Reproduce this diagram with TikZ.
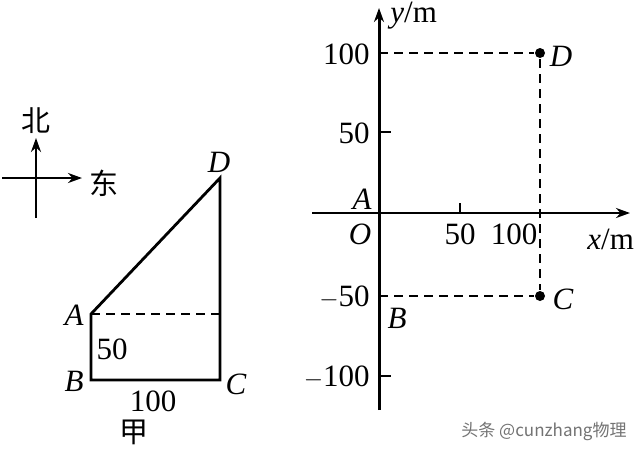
\documentclass[tikz,border=0pt]{standalone}
\usepackage{fontspec}
\setmainfont{Liberation Serif}
\newfontfamily\cjk{Noto Sans CJK SC}
\usetikzlibrary{arrows.meta}
\begin{document}
\begin{tikzpicture}[x=1pt,y=-1pt,line width=2.8pt,line join=miter,
  arr/.style={-{Stealth[length=14pt,width=10pt]}},
  lab/.style={font=\fontsize{31}{33}\selectfont\itshape,inner sep=0pt},
  num/.style={font=\fontsize{31}{33}\selectfont,inner sep=0pt},
  han/.style={font=\fontsize{29}{32}\selectfont\cjk,inner sep=0pt},
  dsh/.style={line width=2.4pt,dash pattern=on 9pt off 6pt},
  dot/.style={circle,fill=black,inner sep=0pt,minimum size=10pt}]
\useasboundingbox (0,0) rectangle (640,451);
% compass
\coordinate (cN) at (36,138);
\coordinate (cS) at (36,218);
\coordinate (cW) at (2,178);
\coordinate (cE) at (82,178);
\draw[arr] (cS) -- (cN);
\draw[arr] (cW) -- (cE);
\node[han] (bei) at (36,121) {北};
\node[han] (dong) at (104,183) {东};
% figure jia
\coordinate (A) at (91,314);
\coordinate (B) at (91,380);
\coordinate (C) at (220,380);
\coordinate (D) at (220,178);
\coordinate (Am) at (220,314);
\draw (A) -- (D) -- (C) -- (B) -- cycle;
\draw[dsh] (A) -- (Am);
\node[lab] (lA) at (74,315) {A};
\node[lab] (lB) at (74,381) {B};
\node[lab] (lC) at (236,384) {C};
\node[lab] (lD) at (219,162) {D};
\node[num] (n50) at (112,349) {50};
\node[num] (n100) at (153,401) {100};
\node[han] (jia) at (134,432) {甲};
% coordinate system
\coordinate (O) at (379,213);
\coordinate (yb) at (379,410);
\coordinate (yt) at (379,8);
\coordinate (xl) at (312,213);
\coordinate (xr) at (630,213);
\draw[arr,line width=3pt] (yb) -- (yt);
\draw[arr] (xl) -- (xr);
\foreach \yy in {132,376}
  \draw (379,\yy) -- (391,\yy);
\draw (460,213) -- (460,203);
\node[dot] (pD) at (540,53) {};
\node[dot] (pC) at (540,296) {};
\coordinate (y100) at (379,53);
\coordinate (ym50) at (379,296);
\draw[dsh] (y100) -- (pD);
\draw[dsh] (pD) -- (pC);
\draw[dsh] (ym50) -- (pC);
\node[num,anchor=east] (t100) at (371,54) {100};
\node[num,anchor=east] (t50) at (371,133) {50};
\node[num,anchor=east] (tm50) at (371,297) {$-$50};
\node[num,anchor=east] (tm100) at (371,377) {$-$100};
\node[num] (x50) at (460,234) {50};
\node[num] (x100) at (514,234) {100};
\node[lab] (lO) at (360,234) {O};
\node[lab] (lA2) at (362,199) {A};
\node[lab] (lB2) at (397,318) {B};
\node[lab] (lC2) at (563,299) {C};
\node[lab] (lD2) at (561,56) {D};
\node[num,anchor=west] (ylab) at (389,16) {\textit{y}/m};
\node[num,anchor=west] (xlab) at (586,239) {\textit{x}/m};
% watermark
\node[font=\fontsize{17}{20}\selectfont\cjk,text=black!55,anchor=west,inner sep=0pt] (wm) at (460,431) {头条 @cunzhang物理};
\end{tikzpicture}
\end{document}
